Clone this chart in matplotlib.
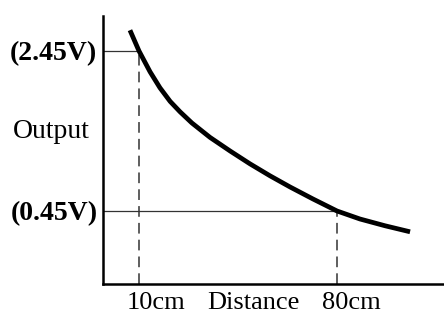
import matplotlib
matplotlib.use('Agg')
import matplotlib.pyplot as plt

# curve: distance (cm) vs output (V)
distance = [6.8, 10, 13.9, 17.4, 21.0, 24.5, 28.7, 35.1, 42.2, 49.2,
            56.3, 63.4, 71.5, 80, 88.1, 97.0, 105.8]
output = [2.71, 2.45, 2.19, 1.99, 1.82, 1.69, 1.55, 1.37, 1.20, 1.04,
          0.89, 0.75, 0.60, 0.45, 0.35, 0.265, 0.19]

# marked points
mark_x = [10, 80]
mark_y = [2.45, 0.45]
ytick_labels = ['(2.45V)', '(0.45V)']
xlabels = ['10cm', 'Distance', '80cm']
xlabel_pos = [16, 50.3, 85]

plt.rcParams['font.family'] = ['Liberation Serif', 'DejaVu Serif']

fig = plt.figure(figsize=(4.44, 3.15), dpi=100)
ax = fig.add_axes([103 / 444, 31 / 315, 341 / 444, 268 / 315])
ax.set_xlim(-2.73, 117.8)
ax.set_ylim(-0.4625, 2.8875)

for s in ['top', 'right']:
    ax.spines[s].set_visible(False)
for s in ['left', 'bottom']:
    ax.spines[s].set_linewidth(1.8)
    ax.spines[s].set_color('black')

# guide lines
for x, y in zip(mark_x, mark_y):
    ax.plot([ax.get_xlim()[0], x], [y, y], color='#333333', lw=0.9)
    ax.plot([x, x], [ax.get_ylim()[0], y], color='#333333', lw=1.1,
            dashes=(7, 4))

ax.plot(distance, output, color='black', lw=3.4, solid_capstyle='butt',
        solid_joinstyle='round')

ax.set_yticks(mark_y)
ax.set_yticklabels(ytick_labels, fontweight='bold', fontsize=20)
ax.tick_params(axis='y', length=0, pad=4)
ax.set_xticks([])

ax.text(-21.1, 1.45, 'Output', fontsize=20, ha='center', va='center')
for lab, x in zip(xlabels, xlabel_pos):
    ax.text(x, -0.70, lab, fontsize=19, ha='center', va='center', clip_on=False)

fig.savefig('out.png', dpi=100)
